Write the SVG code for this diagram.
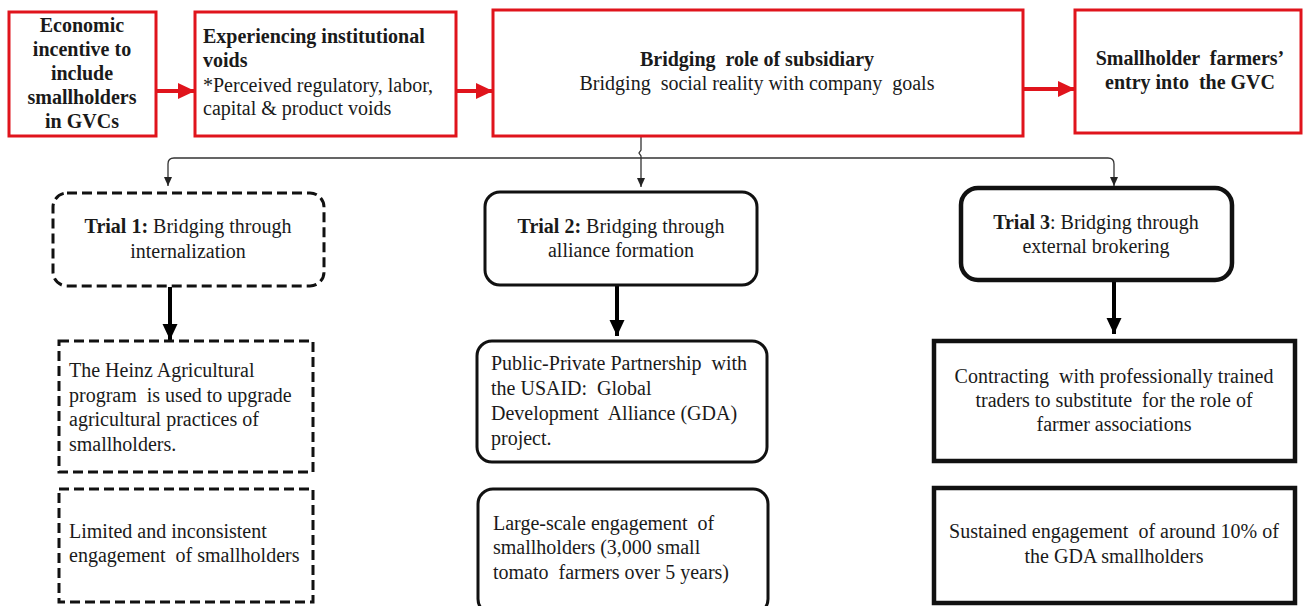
<svg xmlns="http://www.w3.org/2000/svg" width="1307" height="606" viewBox="0 0 1307 606" font-family="'Liberation Serif', 'Times New Roman', 'DejaVu Serif', serif">
<defs>
<style>
text{font-family:'Liberation Serif','Times New Roman','DejaVu Serif',serif;font-size:20px;fill:#1a1a1a;white-space:pre}
.b{font-weight:bold}
.c{text-anchor:middle}
.red{fill:#fff;stroke:#e0141c;stroke-width:3}
.dash{fill:#fff;stroke:#111;stroke-width:3;stroke-dasharray:10 5}
.solid{fill:#fff;stroke:#111;stroke-width:3}
.heavy{fill:#fff;stroke:#111;stroke-width:4.5}
.redarrow{stroke:#e0141c;stroke-width:4;fill:none}
.thin{stroke:#333;stroke-width:1.3;fill:none}
.thick{stroke:#000;stroke-width:4;fill:none}
</style>
<marker id="mr" markerUnits="userSpaceOnUse" markerWidth="18" markerHeight="18" viewBox="0 0 18 18" refX="17" refY="9" orient="auto"><path d="M0,1 L17,9 L0,17 Z" fill="#e0141c"/></marker>
<marker id="mt" markerUnits="userSpaceOnUse" markerWidth="10" markerHeight="10" viewBox="0 0 10 10" refX="9" refY="5" orient="auto"><path d="M0,1 L9,5 L0,9 Z" fill="#222"/></marker>
<marker id="mk" markerUnits="userSpaceOnUse" markerWidth="18" markerHeight="18" viewBox="0 0 18 18" refX="16" refY="9" orient="auto"><path d="M0,1.5 L16,9 L0,16.5 Z" fill="#000"/></marker>
</defs>
<rect width="1307" height="606" fill="#fff"/>

<g id="connectors">
<line class="redarrow" x1="156" y1="91" x2="195" y2="91" marker-end="url(#mr)"/>
<line class="redarrow" x1="456" y1="91" x2="493" y2="91" marker-end="url(#mr)"/>
<line class="redarrow" x1="1023" y1="89" x2="1075" y2="89" marker-end="url(#mr)"/>
<path class="thin" d="M641,137 L641,150 L639,153 L641,156 L641,187" marker-end="url(#mt)"/>
<path class="thin" d="M641,158 L174,158 Q168,158 168,164 L168,186" marker-end="url(#mt)"/>
<path class="thin" d="M641,158 L1108,158 Q1114,158 1114,164 L1114,186" marker-end="url(#mt)"/>
<line class="thick" x1="170" y1="287" x2="170" y2="340" marker-end="url(#mk)"/>
<line class="thick" x1="617" y1="286" x2="617" y2="336" marker-end="url(#mk)"/>
<line class="thick" x1="1114" y1="281" x2="1114" y2="334" marker-end="url(#mk)"/>
</g>

<g id="n-incentive">
<rect class="red" x="9" y="12" width="147" height="124"/>
<text class="b c" x="82"><tspan x="82" y="32">Economic</tspan><tspan x="82" y="56">incentive to</tspan><tspan x="82" y="80">include</tspan><tspan x="82" y="104">smallholders</tspan><tspan x="82" y="128">in GVCs</tspan></text>
</g>

<g id="n-voids">
<rect class="red" x="195" y="12" width="261" height="124"/>
<text x="203" y="43" class="b">Experiencing institutional</text>
<text x="203" y="67" class="b">voids</text>
<text x="203" y="92">*Perceived regulatory, labor,</text>
<text x="203" y="115">capital &amp; product voids</text>
</g>

<g id="n-bridging">
<rect class="red" x="493" y="10" width="530" height="126"/>
<text x="757" y="66" class="b c">Bridging  role of subsidiary</text>
<text x="757" y="90" class="c">Bridging  social reality with company  goals</text>
</g>

<g id="n-entry">
<rect class="red" x="1075" y="10" width="226" height="123"/>
<text x="1190" y="65" class="b c">Smallholder  farmers’</text>
<text x="1190" y="89" class="b c">entry into  the GVC</text>
</g>

<g id="n-trial1">
<rect class="dash" x="53" y="193" width="271" height="93" rx="14"/>
<text x="188" y="233" class="c"><tspan class="b">Trial 1:</tspan> Bridging through</text>
<text x="188" y="258" class="c">internalization</text>
</g>

<g id="n-heinz">
<rect class="dash" x="59" y="341" width="254" height="131"/>
<text x="69" y="377">The Heinz Agricultural</text>
<text x="69" y="402">program  is used to upgrade</text>
<text x="69" y="426">agricultural practices of</text>
<text x="69" y="451">smallholders.</text>
</g>

<g id="n-limited">
<rect class="dash" x="59" y="489" width="254" height="113"/>
<text x="69" y="538">Limited and inconsistent</text>
<text x="69" y="562">engagement  of smallholders</text>
</g>

<g id="n-trial2">
<rect class="solid" x="485" y="192" width="272" height="93" rx="15"/>
<text x="621" y="233" class="c"><tspan class="b">Trial 2:</tspan> Bridging through</text>
<text x="621" y="257" class="c">alliance formation</text>
</g>

<g id="n-ppp">
<rect class="solid" x="477" y="341" width="290" height="121" rx="15"/>
<text x="491" y="370">Public-Private Partnership  with</text>
<text x="491" y="395">the USAID:  Global</text>
<text x="491" y="420">Development  Alliance (GDA)</text>
<text x="491" y="445">project.</text>
</g>

<g id="n-large">
<rect class="solid" x="478" y="489" width="290" height="125" rx="15"/>
<text x="493" y="530">Large-scale engagement  of</text>
<text x="493" y="554">smallholders (3,000 small</text>
<text x="493" y="579">tomato  farmers over 5 years)</text>
</g>

<g id="n-trial3">
<rect class="heavy" x="961" y="188" width="271" height="92" rx="17"/>
<text x="1096" y="229" class="c"><tspan class="b">Trial 3</tspan>: Bridging through</text>
<text x="1096" y="253" class="c">external brokering</text>
</g>

<g id="n-contract">
<rect class="heavy" x="934" y="341" width="361" height="120"/>
<text x="1114" y="383" class="c">Contracting  with professionally trained</text>
<text x="1114" y="407" class="c">traders to substitute  for the role of</text>
<text x="1114" y="431" class="c">farmer associations</text>
</g>

<g id="n-sustained">
<rect class="heavy" x="934" y="488" width="361" height="115"/>
<text x="1114" y="538" class="c">Sustained engagement  of around 10% of</text>
<text x="1114" y="563" class="c">the GDA smallholders</text>
</g>
</svg>
